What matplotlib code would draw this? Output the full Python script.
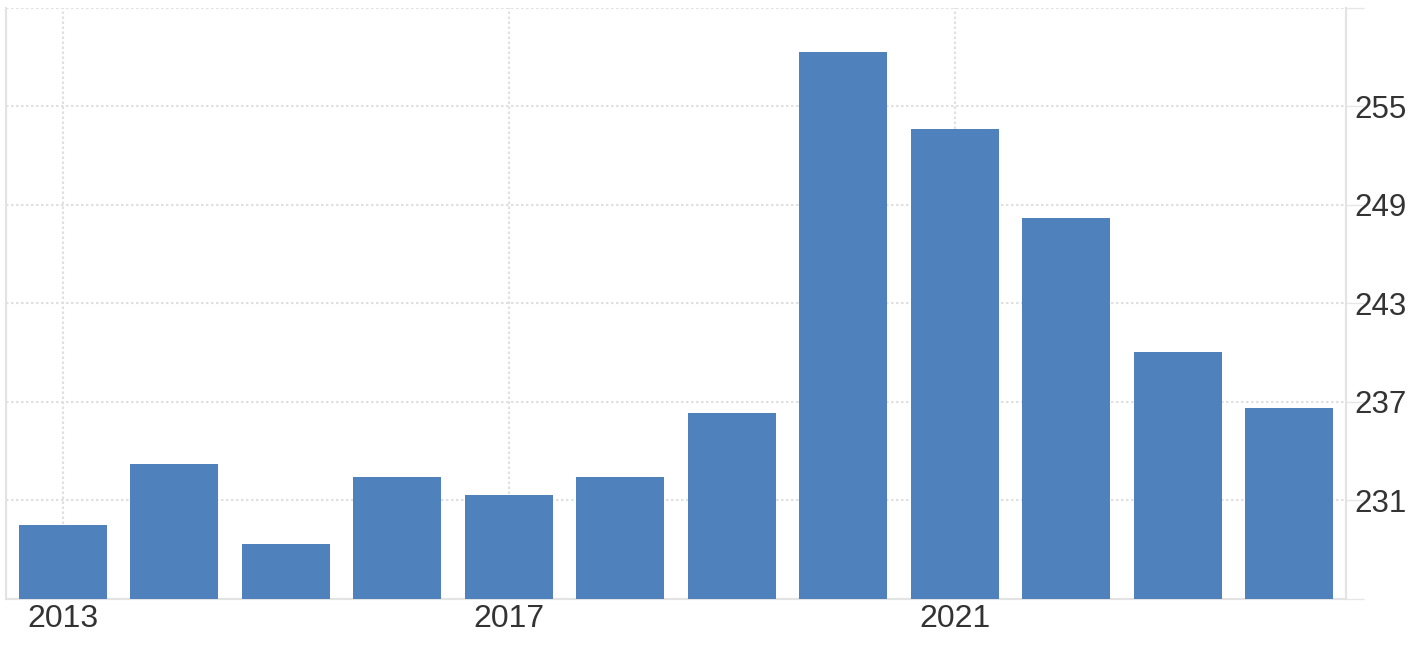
import numpy as np
import matplotlib
matplotlib.use("Agg")
from matplotlib import pyplot as plt

# values
years = [2013, 2014, 2015, 2016, 2017, 2018, 2019, 2020, 2021, 2022, 2023, 2024]
values = [229.5, 233.2, 228.3, 232.4, 231.3, 232.4, 236.3, 258.3, 253.6, 248.2, 240.0, 236.6]

x_ticks = [2013, 2017, 2021]
y_ticks = [225, 231, 237, 243, 249, 255, 261]
y_labels = ["", "231", "237", "243", "249", "255", ""]

plt.rcParams["font.family"] = ["Liberation Sans", "DejaVu Sans"]

fig = plt.figure(figsize=(14.24, 6.46), dpi=100)
ax = fig.add_axes([6 / 1424, 47.5 / 646, 1340 / 1424, 590.5 / 646])

ax.bar(years, values, width=0.79, color="#4f81bd", zorder=3)

ax.set_xlim(2012.49, 2024.51)
ax.set_ylim(225, 261)

ax.set_xticks(x_ticks)
ax.set_xticklabels([str(y) for y in x_ticks])
ax.set_yticks(y_ticks)
ax.set_yticklabels(y_labels)

ax.yaxis.tick_right()
ax.tick_params(axis="y", which="both", length=13, width=1, color="#e6e6e6",
               pad=-7, labelsize=22.5, labelcolor="#333333")
ax.tick_params(axis="x", length=0, pad=4, labelsize=23, labelcolor="#333333")
for lab in ax.get_yticklabels():
    lab.set_zorder(5)
    lab.set_y(lab.get_position()[1])

ax.grid(True, color="#e0e0e0", linestyle=(0, (1.2, 1.2)), linewidth=1.5, zorder=0)

for side in ["left", "right", "bottom"]:
    ax.spines[side].set_color("#e3e3e3")
    ax.spines[side].set_linewidth(1.5)
ax.spines["top"].set_visible(False)

fig.savefig("out.png", dpi=100)
